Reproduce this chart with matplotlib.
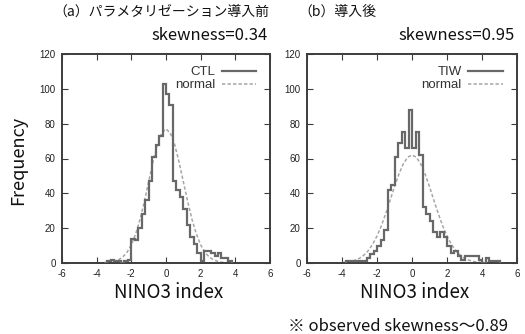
import numpy as np
import matplotlib
matplotlib.use("Agg")
import matplotlib.pyplot as plt

# ---------------------------------------------------------------------------
# data
# ---------------------------------------------------------------------------
# (a) CTL histogram, bin width 0.2
ctl_edges = [-3.6, -3.4, -3.2, -3.0, -2.8, -2.6, -2.4, -2.2, -2.0, -1.8,
             -1.6, -1.4, -1.2, -1.0, -0.8, -0.6, -0.4, -0.2, 0.0, 0.2,
             0.4, 0.6, 0.8, 1.0, 1.2, 1.4, 1.6, 1.8, 2.0, 2.2,
             2.4, 2.6, 2.8, 3.0, 3.2, 3.4, 3.6, 3.8]
ctl_counts = [0, 1, 2, 1, 1, 0, 1, 2, 14, 13,
              20, 28, 36, 47, 61, 68, 73, 103, 97, 91,
              47, 42, 38, 31, 22, 15, 11, 6, 1, 7,
              7, 6, 4, 6, 3, 3, 1]

# (b) TIW histogram
tiw_edges = [-3.8, -3.6, -3.4, -3.2, -3.0, -2.8, -2.6, -2.4, -2.2, -2.0,
             -1.8, -1.6, -1.4, -1.2, -1.0, -0.8, -0.6, -0.4, -0.2, 0.0,
             0.2, 0.4, 0.6, 0.8, 1.0, 1.2, 1.4, 1.6, 1.8, 2.0,
             2.2, 2.4, 2.6, 2.8, 3.0, 3.2, 3.4, 3.6, 3.8, 4.0,
             4.2, 4.4, 4.6, 4.8, 5.0]
tiw_counts = [1, 1, 1, 1, 1, 1, 3, 5, 7, 10,
              13, 19, 42, 45, 61, 69, 75, 66, 88, 66,
              75, 62, 32, 28, 24, 18, 15, 18, 15, 10,
              6, 7, 4, 2, 4, 4, 4, 4, 2, 0,
              3, 1, 1, 1]

# fitted normal curves (read at 0.25 steps)
norm_x = [-4.0, -3.75, -3.5, -3.25, -3.0, -2.75, -2.5, -2.25, -2.0, -1.75,
          -1.5, -1.25, -1.0, -0.75, -0.5, -0.25, 0.0, 0.25, 0.5, 0.75,
          1.0, 1.25, 1.5, 1.75, 2.0, 2.25, 2.5, 2.75, 3.0, 3.25,
          3.5, 3.75, 4.0]
ctl_normal = [0.0, 0.1, 0.2, 0.4, 0.9, 1.8, 3.4, 6.1, 10.4, 16.7,
              25.0, 35.3, 46.7, 58.1, 68.0, 74.6, 77.0, 74.6, 68.0, 58.1,
              46.7, 35.3, 25.0, 16.7, 10.4, 6.1, 3.4, 1.8, 0.9, 0.4,
              0.2, 0.1, 0.0]
tiw_normal = [0.2, 0.5, 0.9, 1.6, 2.7, 4.5, 7.1, 10.7, 15.5, 21.4,
              28.4, 36.0, 43.8, 51.0, 56.8, 60.7, 62.0, 60.7, 56.8, 51.0,
              43.8, 36.0, 28.4, 21.4, 15.5, 10.7, 7.1, 4.5, 2.7, 1.6,
              0.9, 0.5, 0.2]

x_ticks = [-6, -4, -2, 0, 2, 4, 6]
y_ticks = [0, 20, 40, 60, 80, 100, 120]

panels = [
    ("（a）パラメタリゼーション導入前", "skewness=0.34", "CTL",
     ctl_edges, ctl_counts, ctl_normal),
    ("（b）導入後", "skewness=0.95", "TIW",
     tiw_edges, tiw_counts, tiw_normal),
]

# ---------------------------------------------------------------------------
# styling
# ---------------------------------------------------------------------------
JP = ["Noto Sans CJK JP", "DejaVu Sans"]
TICKFONT = "Liberation Sans"
HIST_COLOR = "#686868"
NORM_COLOR = "#a6a6a6"
AXIS_COLOR = "#3c3c3c"

W, H = 525, 334
fig = plt.figure(figsize=(W / 100, H / 100), dpi=100)

# axes boxes in pixels: left, right, top, bottom
boxes = [(62, 270, 54, 263), (307, 517, 54, 263)]

for (title, skew, name, edges, counts, normal), (l, r, t, b) in zip(panels, boxes):
    ax = fig.add_axes([l / W, 1 - b / H, (r - l) / W, (b - t) / H])

    ax.plot(norm_x, normal, linestyle=(0, (2.2, 1.4)), color=NORM_COLOR,
            linewidth=1.1, label="normal", zorder=2)
    ax.stairs(counts, edges, baseline=0, color=HIST_COLOR, linewidth=1.6,
              label=name, zorder=3)

    ax.set_xlim(-6, 6)
    ax.set_ylim(0, 120)
    ax.set_xticks(x_ticks)
    ax.set_yticks(y_ticks)
    ax.set_xticklabels([str(v) for v in x_ticks], fontfamily=TICKFONT)
    ax.set_yticklabels([str(v) for v in y_ticks], fontfamily=TICKFONT)
    ax.tick_params(direction="in", length=4, width=0.8, colors=AXIS_COLOR,
                   labelsize=7, labelcolor="#222222", top=True, right=True)
    ax.tick_params(axis="x", pad=4.5)
    ax.tick_params(axis="y", pad=4.5)
    for sp in ax.spines.values():
        sp.set_color(AXIS_COLOR)
        sp.set_linewidth(1.4)

    # legend: text on the left, line sample on the right (gnuplot style)
    handles, labels = ax.get_legend_handles_labels()
    order = [labels.index(name), labels.index("normal")]
    leg = ax.legend([handles[i] for i in order], [labels[i] for i in order],
                    loc="upper right", bbox_to_anchor=(0.97, 0.98),
                    frameon=False, markerfirst=False, handlelength=2.6,
                    handletextpad=0.5, labelspacing=0.05, borderaxespad=0.2,
                    prop={"family": TICKFONT, "size": 9.5})
    for txt in leg.get_texts():
        txt.set_color("#333333")

    fig.text((l - 9) / W, 1 - 12 / H, title, family=JP, fontsize=10,
             ha="left", va="center", color="#111111")
    fig.text((r - 2) / W, 1 - 36 / H, skew, family=JP, fontsize=12,
             ha="right", va="center", color="#111111")
    fig.text((l + r) / 2 / W + 3 / W, 1 - 293 / H, "NINO3 index", family=JP,
             fontsize=13.5, ha="center", va="center", color="#111111")

fig.text(18 / W, 1 - 160 / H, "Frequency", family=JP, fontsize=13,
         rotation=90, ha="center", va="center", color="#111111")
fig.text(288 / W, 1 - 326 / H, "※ observed skewness〜0.89", family=JP,
         fontsize=12, ha="left", va="center", color="#111111")

fig.savefig("out.png", dpi=100)
